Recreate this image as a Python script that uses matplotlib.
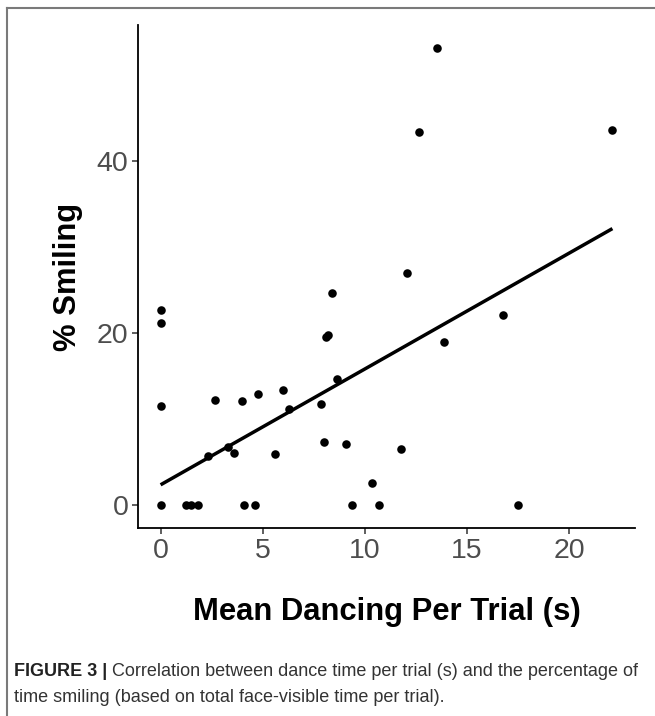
import numpy as np
import matplotlib
matplotlib.use("Agg")
import matplotlib.pyplot as plt
from matplotlib.lines import Line2D

# mean dancing per trial (s) and % smiling
dance = [0, 0, 0, 0, 1.26, 1.5, 1.81, 2.34, 2.68, 3.28, 3.59, 3.99, 4.07, 4.62,
         4.75, 5.59, 5.98, 6.31, 7.86, 8.02, 8.10, 8.22, 8.37, 8.63, 9.07, 9.38,
         10.36, 10.67, 11.78, 12.07, 12.66, 13.51, 13.87, 16.76, 17.48, 22.12]
smile = [22.7, 21.1, 11.5, 0, 0, 0, 0, 5.74, 12.2, 6.78, 6.05, 12.1, 0, 0,
         12.9, 5.97, 13.4, 11.2, 11.7, 7.36, 19.5, 19.7, 24.6, 14.6, 7.09, 0,
         2.6, 0, 6.5, 26.9, 43.3, 53.1, 18.9, 22.1, 0, 43.6]

# fitted line as drawn in the figure (intercept, slope)
fit_intercept = 2.36
fit_slope = 1.345

x_ticks = [0, 5, 10, 15, 20]
y_ticks = [0, 20, 40]

caption_bold = "FIGURE 3 | "
caption_line1 = "Correlation between dance time per trial (s) and the percentage of"
caption_line2 = "time smiling (based on total face-visible time per trial)."

plt.rcParams['font.family'] = ['Liberation Sans', 'DejaVu Sans']

W, H = 655, 716
fig = plt.figure(figsize=(W / 100, H / 100), dpi=100)

# axes placed in pixel terms
left, right, top, bottom = 138, 635, 25, 528
ax = fig.add_axes([left / W, 1 - bottom / H, (right - left) / W, (bottom - top) / H])

x = np.array(dance)
y = np.array(smile)
ax.scatter(x, y, s=38, color="black", linewidths=0, zorder=3)

xs = np.array([x.min(), x.max()])
ax.plot(xs, fit_intercept + fit_slope * xs, color="black", lw=2.5, solid_capstyle="butt")

xr = x.max() - x.min()
yr = y.max() - y.min()
ax.set_xlim(x.min() - 0.05 * xr, x.max() + 0.05 * xr)
ax.set_ylim(y.min() - 0.05 * yr, y.max() + 0.05 * yr)

ax.set_xticks(x_ticks)
ax.set_yticks(y_ticks)
ax.tick_params(axis="both", length=4, width=1.1, color="#333333",
               labelsize=20.5, labelcolor="#4D4D4D", pad=3)
for side in ["top", "right"]:
    ax.spines[side].set_visible(False)
for side in ["left", "bottom"]:
    ax.spines[side].set_linewidth(1.3)
    ax.spines[side].set_color("black")

ax.set_xlabel("Mean Dancing Per Trial (s)", fontsize=22.3, fontweight="bold", labelpad=24)
ax.set_ylabel("% Smiling", fontsize=22.3, fontweight="bold", labelpad=10)

# frame of the figure panel (top and left edges)
fig.add_artist(Line2D([7 / W, 7 / W], [0, 1 - 8 / H], transform=fig.transFigure,
                      color="#7a7a7a", lw=1.5))
fig.add_artist(Line2D([7 / W, 1], [1 - 8 / H, 1 - 8 / H], transform=fig.transFigure,
                      color="#7a7a7a", lw=1.5))

# caption, bold lead then regular text
cap_size = 13.0
t1 = fig.text(14 / W, 1 - 672 / H, caption_bold, fontsize=cap_size, fontweight="bold",
              color="#222222", va="center", ha="left")
fig.canvas.draw()
bb = t1.get_window_extent(renderer=fig.canvas.get_renderer())
fig.text(bb.x1 / W, 1 - 672 / H, caption_line1, fontsize=cap_size, color="#333333",
         va="center", ha="left")
fig.text(14 / W, 1 - 698 / H, caption_line2, fontsize=cap_size, color="#333333",
         va="center", ha="left")

fig.savefig("out.png", dpi=100)
